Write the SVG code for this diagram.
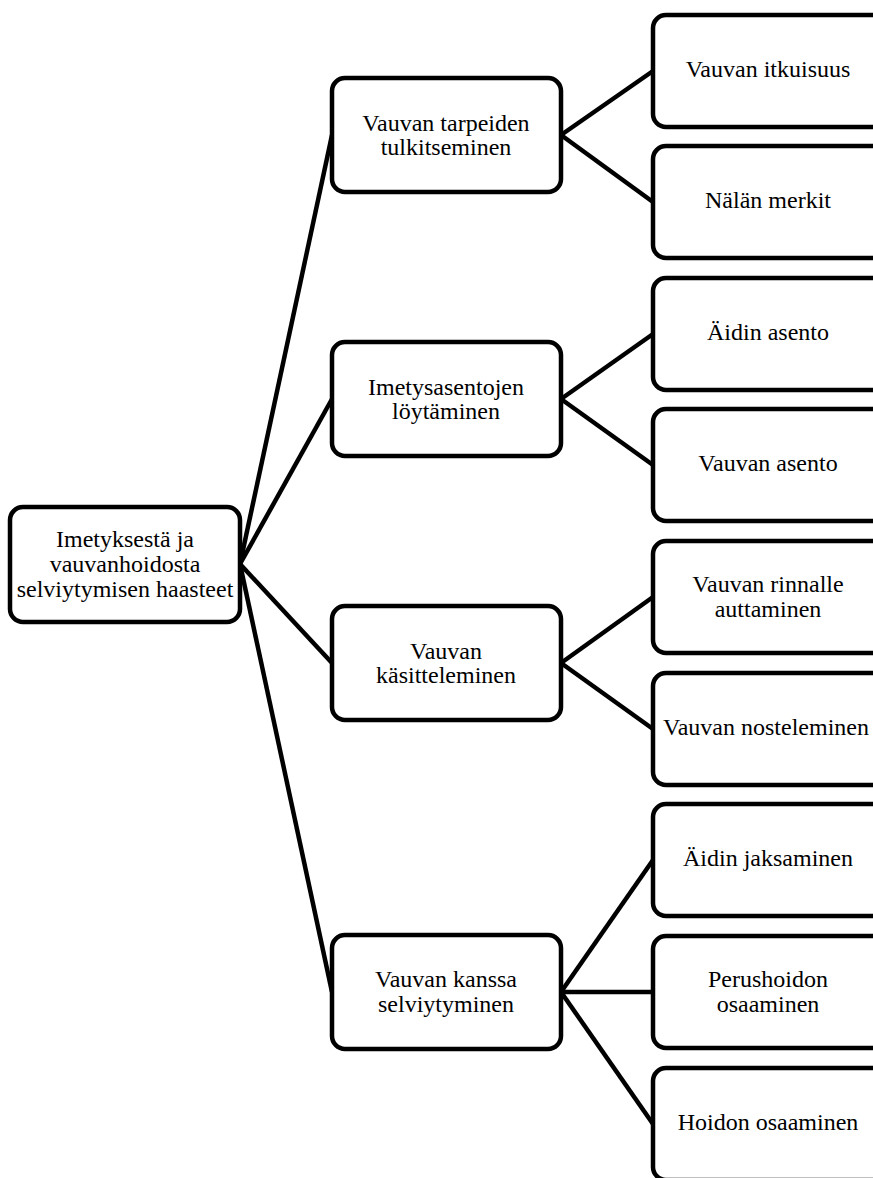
<svg xmlns="http://www.w3.org/2000/svg" width="873" height="1178" viewBox="0 0 873 1178">
  <style>
    .box { fill: #ffffff; stroke: #000000; stroke-width: 4.5; }
    text { font-family: 'Liberation Serif', 'Times New Roman', serif; font-size: 24px; fill: #000000; text-anchor: middle; }
    .edge { stroke: #000000; stroke-width: 4.5; fill: none; }
  </style>
  <rect width="873" height="1178" fill="#ffffff"/>

  <!-- connectors -->
  <g id="connectors" class="edge">
    <line x1="240" y1="564" x2="332" y2="135"/>
    <line x1="240" y1="564" x2="332" y2="399"/>
    <line x1="240" y1="564" x2="332" y2="663"/>
    <line x1="240" y1="564" x2="332" y2="992"/>
    <line x1="561" y1="135" x2="653" y2="71"/>
    <line x1="561" y1="135" x2="653" y2="202"/>
    <line x1="561" y1="399" x2="653" y2="334"/>
    <line x1="561" y1="399" x2="653" y2="465"/>
    <line x1="561" y1="663" x2="653" y2="597"/>
    <line x1="561" y1="663" x2="653" y2="729"/>
    <line x1="561" y1="992" x2="653" y2="860"/>
    <line x1="561" y1="992" x2="653" y2="992"/>
    <line x1="561" y1="992" x2="653" y2="1124"/>
  </g>

  <!-- root -->
  <g id="root">
    <rect class="box" x="10" y="507" width="230" height="115" rx="13"/>
    <text x="125" y="547">Imetyksestä ja</text>
    <text x="125" y="572">vauvanhoidosta</text>
    <text x="125" y="597">selviytymisen haasteet</text>
  </g>

  <!-- second level -->
  <g id="tulkitseminen">
    <rect class="box" x="332" y="78" width="229" height="114" rx="13"/>
    <text x="446" y="131">Vauvan tarpeiden</text>
    <text x="446" y="155">tulkitseminen</text>
  </g>
  <g id="imetysasennot">
    <rect class="box" x="332" y="342" width="229" height="114" rx="13"/>
    <text x="446" y="395">Imetysasentojen</text>
    <text x="446" y="419">löytäminen</text>
  </g>
  <g id="kasitteleminen">
    <rect class="box" x="332" y="606" width="229" height="114" rx="13"/>
    <text x="446" y="659">Vauvan</text>
    <text x="446" y="683">käsitteleminen</text>
  </g>
  <g id="selviytyminen">
    <rect class="box" x="332" y="935" width="229" height="114" rx="13"/>
    <text x="446" y="987">Vauvan kanssa</text>
    <text x="446" y="1012">selviytyminen</text>
  </g>

  <!-- third level (boxes run past the right edge) -->
  <g id="itkuisuus">
    <rect class="box" x="653" y="15" width="232" height="112" rx="13"/>
    <text x="768" y="77">Vauvan itkuisuus</text>
  </g>
  <g id="nalka">
    <rect class="box" x="653" y="146" width="232" height="112" rx="13"/>
    <text x="768" y="208">Nälän merkit</text>
  </g>
  <g id="aidin-asento">
    <rect class="box" x="653" y="278" width="232" height="112" rx="13"/>
    <text x="768" y="340">Äidin asento</text>
  </g>
  <g id="vauvan-asento">
    <rect class="box" x="653" y="409" width="232" height="112" rx="13"/>
    <text x="768" y="471">Vauvan asento</text>
  </g>
  <g id="rinnalle">
    <rect class="box" x="653" y="541" width="232" height="112" rx="13"/>
    <text x="768" y="592">Vauvan rinnalle</text>
    <text x="768" y="617">auttaminen</text>
  </g>
  <g id="nosteleminen">
    <rect class="box" x="653" y="673" width="232" height="112" rx="13"/>
    <text x="766" y="735">Vauvan nosteleminen</text>
  </g>
  <g id="jaksaminen">
    <rect class="box" x="653" y="804" width="232" height="112" rx="13"/>
    <text x="768" y="866">Äidin jaksaminen</text>
  </g>
  <g id="perushoito">
    <rect class="box" x="653" y="936" width="232" height="112" rx="13"/>
    <text x="768" y="987">Perushoidon</text>
    <text x="768" y="1012">osaaminen</text>
  </g>
  <g id="hoito">
    <rect class="box" x="653" y="1068" width="232" height="112" rx="13"/>
    <text x="768" y="1130">Hoidon osaaminen</text>
  </g>
</svg>
